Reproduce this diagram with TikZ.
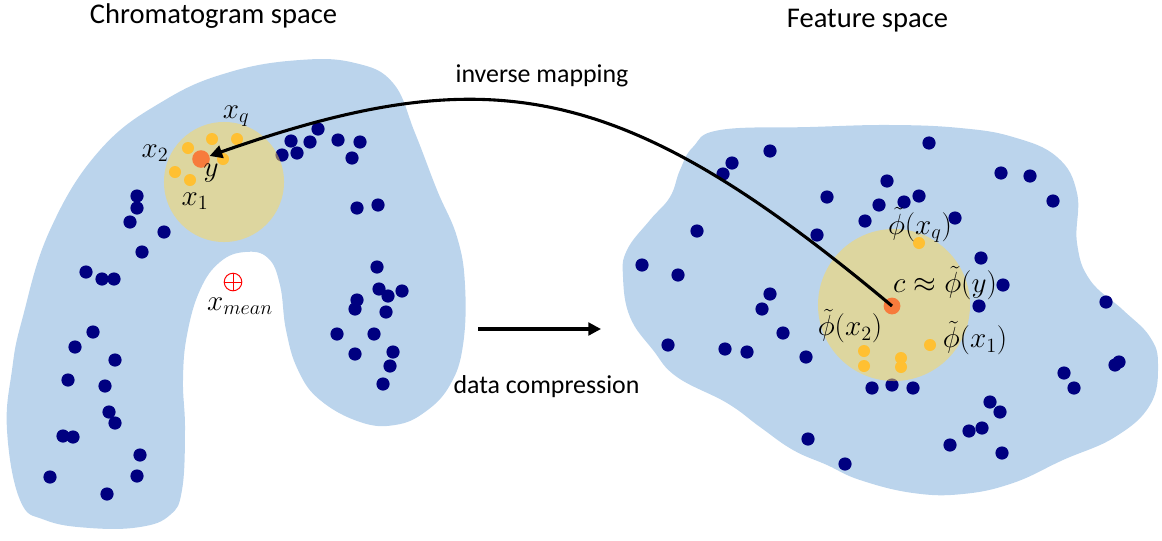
\documentclass[tikz,border=0pt]{standalone}
\usepackage[no-math]{fontspec}
\setmainfont{Carlito}
\usepackage{amsmath}
\usepackage{tikz}
\usetikzlibrary{arrows.meta}

\definecolor{blobblue}{RGB}{187,212,236}
\definecolor{pointnavy}{RGB}{0,0,128}
\definecolor{nbhdgold}{RGB}{255,216,84}
\definecolor{nbryellow}{RGB}{255,192,50}
\definecolor{centreorange}{RGB}{247,123,60}

\tikzset{
  pointdot/.style={circle, fill=pointnavy, inner sep=0pt, minimum size=3.3mm},
  nbrdot/.style={circle, fill=nbryellow, inner sep=0pt, minimum size=3mm},
  centredot/.style={circle, fill=centreorange, inner sep=0pt, minimum size=4.4mm},
  nbhd/.style={circle, fill=nbhdgold, fill opacity=0.5, inner sep=0pt},
  maplabel/.style={inner sep=0pt, font=\fontsize{21}{25}\selectfont},
  titletext/.style={anchor=base, inner sep=0pt, font=\fontsize{20.3}{24}\selectfont},
  arrowtext/.style={anchor=base, inner sep=0pt, font=\fontsize{18.4}{22}\selectfont},
  maparrow/.style={line width=2.2pt, -{Triangle[length=9pt,width=9pt]}},
}

\begin{document}
\begin{tikzpicture}[x=0.025cm, y=-0.025cm]
\useasboundingbox (0,0) rectangle (1162,540);

\fill[blobblue] plot[smooth cycle, tension=0.7] coordinates {
  (20,500) (7,430) (12,370) (22,320) (50,230) (100,150) (165,100) (230,72)
  (300,60) (355,63) (393,83) (415,133) (437,190) (457,237) (465,285) (463,345)
  (450,385) (425,412) (395,425) (360,422) (320,400) (298,370) (286,330) (280,285)
  (268,258) (245,252) (220,262) (200,290) (187,335) (183,380) (185,430) (182,490)
  (170,515) (140,527) (90,528) (45,520)};
\fill[blobblue] plot[smooth cycle, tension=0.7] coordinates {
  (720,130) (810,127) (890,125) (960,128) (1013,137) (1057,157) (1077,193) (1077,243)
  (1090,280) (1123,310) (1150,337) (1158,365) (1150,405) (1115,437) (1063,460) (1013,483)
  (963,494) (913,493) (860,480) (827,465) (793,450) (760,427) (727,403) (677,377)
  (653,350) (630,317) (623,277) (627,250) (650,220) (670,197) (680,170) (693,147)};

\foreach \px/\py [count=\k] in {137/196, 137/208, 130/222, 164/232, 142/252, 86/272,
    102/279, 114/279, 93/332, 75/347, 115/360, 68/380, 105/386, 109/412, 115/423,
    63/436, 73/437, 140/455, 137/476, 50/477, 107/494, 282/155, 291/141, 297/153,
    310/142, 318/129, 338/140, 360/142, 352/158, 357/208, 378/205, 377/267, 379/289,
    388/296, 402/291, 357/300, 355/309, 386/312, 337/334, 374/334, 355/354, 393/352,
    390/366, 383/384}
  \node[pointdot] (cp\k) at (\px,\py) {};

\foreach \px/\py [count=\k] in {770/151, 732/163, 723/174, 827/197, 879/205, 887/181,
    865/221, 697/231, 817/235, 642/265, 678/275, 770/294, 762/309, 783/333, 668/345,
    725/349, 747/352, 806/357, 872/388, 808/439, 845/464, 929/143, 919/196, 904/202,
    955/218, 1001/173, 1030/176, 1053/201, 981/258, 1003/285, 979/306, 1106/302,
    1119/362, 1115/365, 1064/373, 1074/388, 892/385, 913/388, 990/402, 1000/412,
    982/428, 969/431, 950/445, 1002/453}
  \node[pointdot] (fp\k) at (\px,\py) {};

\node[nbhd, minimum size=3cm] (lnbhd) at (224,182) {};
\node[nbhd, minimum size=3.8cm] (rnbhd) at (894,305) {};

\foreach \px/\py [count=\k] in {212/139, 237/139, 188/148, 223/159, 175/172, 190/180}
  \node[nbrdot] (cn\k) at (\px,\py) {};
\foreach \px/\py [count=\k] in {919/243, 930/345, 901/358, 901/367, 864/351, 864/366}
  \node[nbrdot] (fn\k) at (\px,\py) {};

\node[centredot] (ydot) at (201,159) {};
\node[centredot, minimum size=4.2mm] (cdot) at (892,306) {};

\node[circle, draw=red, line width=0.7pt, inner sep=0pt, minimum size=4.4mm] (xmean) at (233,282) {};
\draw[red, line width=0.7pt] (xmean.north) -- (xmean.south) (xmean.west) -- (xmean.east);

\node[maplabel] (lxq) at (236,116) {$x_q$};
\node[maplabel] (lx2) at (155,153) {$x_2$};
\node[maplabel] (ly) at (211,173) {$y$};
\node[maplabel] (lx1) at (195,201) {$x_1$};
\node[maplabel] (lxmean) at (240,306) {$x_{mean}$};
\node[maplabel] (rxq) at (920,225) {$\tilde{\phi}(x_q)$};
\node[maplabel] (rc) at (945,283) {$c \approx \tilde{\phi}(y)$};
\node[maplabel] (rx1) at (975,338) {$\tilde{\phi}(x_1)$};
\node[maplabel] (rx2) at (850,326) {$\tilde{\phi}(x_2)$};

\node[titletext] (chromtitle) at (213.5,23) {Chromatogram space};
\node[titletext] (feattitle) at (867.5,27) {Feature space};
\node[arrowtext] (invlabel) at (542,82) {inverse mapping};
\node[arrowtext] (complabel) at (546.5,393) {data compression};

\coordinate (compstart) at (478,329);
\coordinate (compend) at (601,329);
\draw[maparrow] (compstart) -- (compend);
\draw[maparrow] (cdot.center) .. controls (622,80) and (491,57) .. (ydot);
\end{tikzpicture}
\end{document}
